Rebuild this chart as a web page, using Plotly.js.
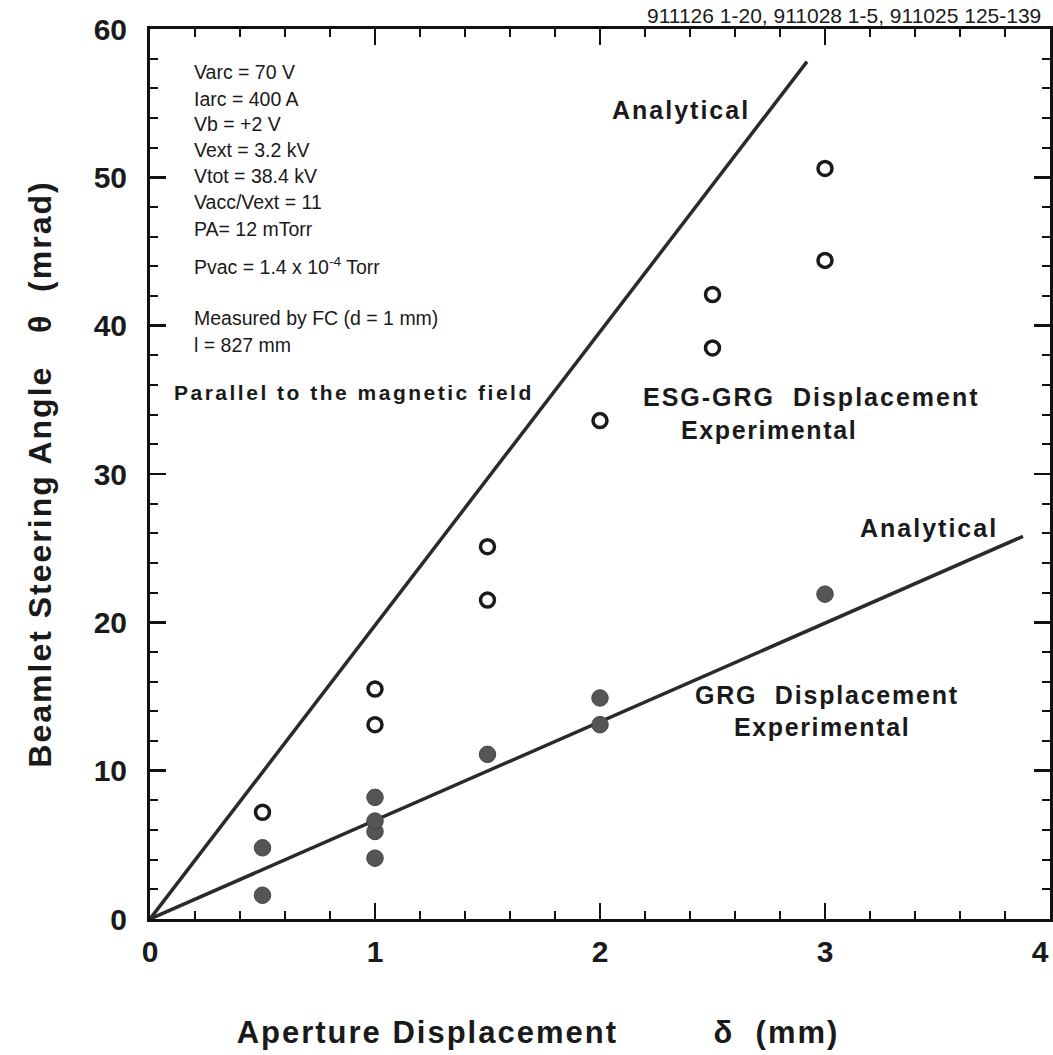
<!DOCTYPE html>
<html>
<head>
<meta charset="utf-8">
<script src="https://cdn.plot.ly/plotly-3.0.1.min.js"></script>
<style>
  html, body { margin: 0; padding: 0; background: #fff; }
  #chart { width: 1053px; height: 1055px; }
  .xtitle, .ytitle { letter-spacing: 2px; }
  .xtitle { translate: -62px 0; }
  .xaxislayer-above .xtick:last-child text { translate: -10px 0; }
</style>
</head>
<body>
<div id="chart"></div>
<script>
// ESG-GRG displacement, experimental (open circles)
const xEsg = [0.5, 1, 1, 1.5, 1.5, 2, 2.5, 2.5, 3, 3];
const yEsg = [7.2, 13.1, 15.5, 21.5, 25.1, 33.6, 38.5, 42.1, 44.4, 50.6];
// GRG displacement, experimental (filled circles)
const xGrg = [0.5, 0.5, 1, 1, 1, 1, 1.5, 2, 2, 3];
const yGrg = [1.6, 4.8, 4.1, 5.9, 6.6, 8.2, 11.1, 13.1, 14.9, 21.9];
// Analytical lines
const xAnaEsg = [0, 2.92];
const yAnaEsg = [0, 57.8];
const xAnaGrg = [0, 3.88];
const yAnaGrg = [0, 25.8];
// Tick values
const xTicks = [0, 1, 2, 3, 4];
const yTicks = [0, 10, 20, 30, 40, 50, 60];

const conditions = [
  'Varc = 70 V', 'Iarc = 400 A', 'Vb = +2 V', 'Vext = 3.2 kV', 'Vtot = 38.4 kV',
  'Vacc/Vext = 11', 'PA= 12 mTorr', 'Pvac = 1.4 x 10<sup>-4</sup> Torr',
  'Measured by FC (d = 1 mm)', 'l = 827 mm'
];
const condY = [72, 99, 124, 150, 176, 202, 229, 266, 318, 345];

const FONT = 'Liberation Sans, Arial, sans-serif';
const L = 150, T = 29, W = 900, H = 890;
const fx = px => (px - L) / W;
const fy = py => (T + H - py) / H;
const NB = n => '\u00a0'.repeat(n);

const traces = [
  { x: xAnaEsg, y: yAnaEsg, mode: 'lines', line: { color: '#2a2a2a', width: 3.5 }, hoverinfo: 'skip' },
  { x: xAnaGrg, y: yAnaGrg, mode: 'lines', line: { color: '#2a2a2a', width: 3.5 }, hoverinfo: 'skip' },
  { x: xEsg, y: yEsg, mode: 'markers',
    marker: { symbol: 'circle', size: 14, color: '#ffffff', line: { color: '#1a1a1a', width: 3.5 } } },
  { x: xGrg, y: yGrg, mode: 'markers',
    marker: { symbol: 'circle', size: 16.5, color: '#555555', line: { color: '#444', width: 1 } } }
];

const ann = [];
conditions.forEach((t, i) => ann.push({
  xref: 'paper', yref: 'paper', x: fx(192), y: fy(condY[i]), xanchor: 'left', yanchor: 'middle',
  text: t, showarrow: false, font: { family: FONT, size: 19.5, color: '#1a1a1a' }
}));
const bold = (text, cx, cy, size, spacing, anchor) => ({
  xref: 'paper', yref: 'paper', x: fx(cx), y: fy(cy), xanchor: anchor || 'center', yanchor: 'middle',
  text: '<span style="letter-spacing:' + spacing + 'px">' + text + '</span>', showarrow: false,
  font: { family: FONT, size: size, color: '#1a1a1a', weight: 'bold' }
});
ann.push({
  xref: 'paper', yref: 'paper', x: fx(1043), y: fy(15), xanchor: 'right', yanchor: 'middle',
  text: '911126 1-20, 911028 1-5, 911025 125-139', showarrow: false,
  font: { family: FONT, size: 21, color: '#1a1a1a' }
});
ann.push(bold('Analytical', 681, 110, 25, 2));
ann.push(bold('Parallel to the magnetic field', 172, 392, 21, 2.5, 'left'));
ann.push(bold('ESG-GRG' + NB(2) + 'Displacement', 811, 397, 25, 2));
ann.push(bold('Experimental', 769, 430, 25, 1.6));
ann.push(bold('Analytical', 929, 528, 25, 2));
ann.push(bold('GRG' + NB(2) + 'Displacement', 827, 695, 25, 1.8));
ann.push(bold('Experimental', 822, 727, 25, 1.6));

const axisCommon = {
  showline: true, linewidth: 3, linecolor: '#111', mirror: 'allticks',
  ticks: 'inside', ticklen: 16, tickwidth: 2.5, tickcolor: '#111',
  showgrid: false, zeroline: false, fixedrange: true,
  ticklabeloverflow: 'allow',
  tickfont: { family: FONT, size: 30, color: '#1a1a1a', weight: 'bold' }
};

const layout = {
  width: 1053, height: 1055,
  margin: { l: L, r: 1053 - L - W, t: T, b: 1055 - T - H },
  paper_bgcolor: '#ffffff', plot_bgcolor: '#ffffff',
  showlegend: false,
  xaxis: Object.assign({}, axisCommon, {
    range: [0, 4], tickmode: 'array', tickvals: xTicks, ticktext: xTicks.map(String),
    minor: { dtick: 0.2, ticks: 'inside', ticklen: 8, tickwidth: 2, tickcolor: '#111' },
    ticklabelstandoff: 4,
    title: { text: 'Aperture Displacement' + NB(9) + '\u03b4' + NB(2) + '(mm)', standoff: 55,
      font: { family: FONT, size: 31, color: '#1a1a1a', weight: 'bold' } }
  }),
  yaxis: Object.assign({}, axisCommon, {
    range: [0, 60], tickmode: 'array', tickvals: yTicks, ticktext: yTicks.map(String),
    minor: { dtick: 2, ticks: 'inside', ticklen: 8, tickwidth: 2, tickcolor: '#111' },
    ticklabelstandoff: 14,
    title: { text: 'Beamlet Steering Angle' + NB(3) + '\u03b8' + NB(2) + '(mrad)', standoff: 33,
      font: { family: FONT, size: 32, color: '#1a1a1a', weight: 'bold' } }
  }),
  annotations: ann
};

Plotly.newPlot('chart', traces, layout, { staticPlot: true, displayModeBar: false });
</script>
</body>
</html>
